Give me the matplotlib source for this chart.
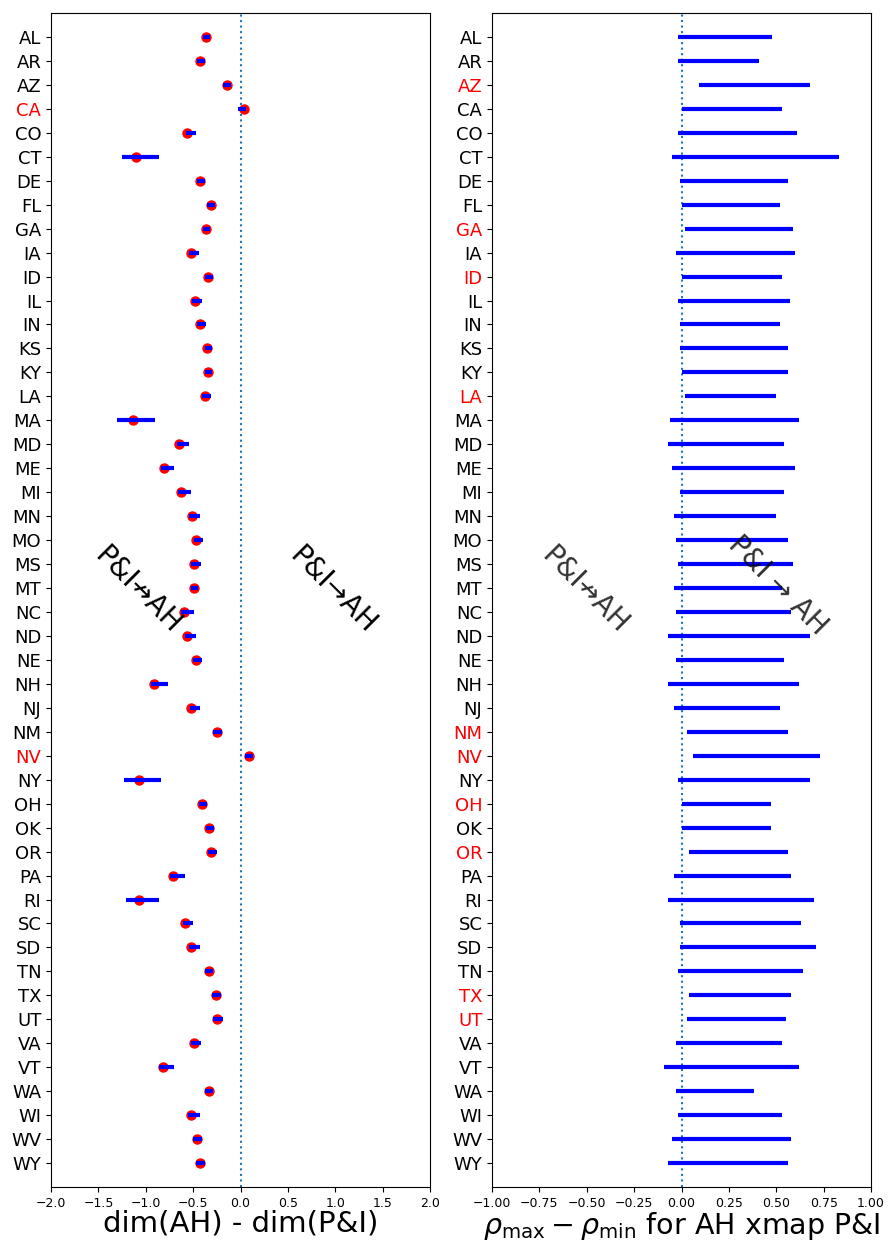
import numpy as np
import matplotlib
matplotlib.use('Agg')
import matplotlib.pyplot as plt

states = ['AL', 'AR', 'AZ', 'CA', 'CO', 'CT', 'DE', 'FL', 'GA', 'IA', 'ID', 'IL',
          'IN', 'KS', 'KY', 'LA', 'MA', 'MD', 'ME', 'MI', 'MN', 'MO', 'MS', 'MT',
          'NC', 'ND', 'NE', 'NH', 'NJ', 'NM', 'NV', 'NY', 'OH', 'OK', 'OR', 'PA',
          'RI', 'SC', 'SD', 'TN', 'TX', 'UT', 'VA', 'VT', 'WA', 'WI', 'WV', 'WY']

# dim(AH) - dim(P&I): point estimate and range
dim_diff = [-0.36, -0.43, -0.14, 0.04, -0.57, -1.10, -0.43, -0.31, -0.36, -0.52, -0.34, -0.48,
            -0.43, -0.35, -0.34, -0.37, -1.14, -0.65, -0.81, -0.63, -0.51, -0.47, -0.49, -0.49,
            -0.60, -0.56, -0.47, -0.91, -0.52, -0.25, 0.09, -1.07, -0.41, -0.33, -0.31, -0.71,
            -1.07, -0.59, -0.52, -0.33, -0.26, -0.25, -0.49, -0.82, -0.33, -0.52, -0.46, -0.43]
dim_lo = [-0.40, -0.46, -0.18, -0.03, -0.58, -1.25, -0.46, -0.35, -0.40, -0.54, -0.37, -0.51,
          -0.46, -0.38, -0.38, -0.41, -1.30, -0.67, -0.84, -0.66, -0.54, -0.49, -0.52, -0.52,
          -0.63, -0.59, -0.50, -0.94, -0.53, -0.29, 0.05, -1.23, -0.44, -0.36, -0.34, -0.74,
          -1.21, -0.61, -0.54, -0.37, -0.30, -0.29, -0.52, -0.86, -0.37, -0.55, -0.50, -0.47]
dim_hi = [-0.32, -0.37, -0.10, 0.06, -0.47, -0.86, -0.38, -0.27, -0.32, -0.44, -0.29, -0.41,
          -0.36, -0.30, -0.30, -0.31, -0.90, -0.54, -0.70, -0.52, -0.43, -0.40, -0.42, -0.45,
          -0.49, -0.47, -0.41, -0.77, -0.43, -0.20, 0.13, -0.84, -0.35, -0.28, -0.25, -0.59,
          -0.86, -0.50, -0.43, -0.29, -0.21, -0.19, -0.42, -0.70, -0.29, -0.43, -0.41, -0.37]

# rho_max - rho_min range for AH xmap P&I
rho_lo = [-0.02, -0.02, 0.09, 0.00, -0.02, -0.05, -0.01, 0.00, 0.02, -0.03, 0.00, -0.02,
          -0.01, -0.01, 0.00, 0.02, -0.06, -0.07, -0.05, -0.01, -0.04, -0.03, -0.02, -0.04,
          -0.03, -0.07, -0.03, -0.07, -0.04, 0.03, 0.06, -0.02, 0.00, 0.00, 0.04, -0.04,
          -0.07, -0.01, -0.01, -0.02, 0.04, 0.03, -0.03, -0.09, -0.03, -0.02, -0.05, -0.07]
rho_hi = [0.48, 0.41, 0.68, 0.53, 0.61, 0.83, 0.56, 0.52, 0.59, 0.60, 0.53, 0.57,
          0.52, 0.56, 0.56, 0.50, 0.62, 0.54, 0.60, 0.54, 0.50, 0.56, 0.59, 0.53,
          0.58, 0.68, 0.54, 0.62, 0.52, 0.56, 0.73, 0.68, 0.47, 0.47, 0.56, 0.58,
          0.70, 0.63, 0.71, 0.64, 0.58, 0.55, 0.53, 0.62, 0.38, 0.53, 0.58, 0.56]

red_left = ['CA', 'NV']
red_right = ['AZ', 'GA', 'ID', 'LA', 'NM', 'NV', 'OH', 'OR', 'TX', 'UT']

y = np.arange(len(states))

fig = plt.figure(figsize=(8.89, 12.41), dpi=100)
ax1 = fig.add_axes([0.0574, 0.0435, 0.4263, 0.946])
ax2 = fig.add_axes([0.5534, 0.0435, 0.4264, 0.946])

# left panel
ax1.plot(dim_diff, y, 'o', color='red', markersize=6.5, zorder=2)
ax1.hlines(y, dim_lo, dim_hi, colors='blue', linewidth=3, zorder=3)
ax1.axvline(0, color='tab:blue', linestyle=':', linewidth=1.5)
ax1.set_xlim(-2, 2)
ax1.set_xticks(np.arange(-2, 2.01, 0.5))
ax1.set_xlabel('dim(AH) - dim(P&I)', fontsize=21, labelpad=0)
ax1.text(-1.08, 23.1, 'P&I\u219bAH', fontsize=20, rotation=-45, ha='center', va='center')
ax1.text(0.97, 23.1, 'P&I\u2192AH', fontsize=20, rotation=-45, ha='center', va='center')

# right panel
ax2.hlines(y, rho_lo, rho_hi, colors='blue', linewidth=3, zorder=3)
ax2.axvline(0, color='tab:blue', linestyle=':', linewidth=1.5)
ax2.set_xlim(-1, 1)
ax2.set_xticks(np.arange(-1, 1.01, 0.25))
ax2.set_xlabel(r'$\rho_{\max} - \rho_{\min}$ for AH xmap P&I', fontsize=20.5, labelpad=0)
ax2.text(-0.51, 23.1, 'P&I\u219bAH', fontsize=20, rotation=-45, ha='center', va='center',
         color='k', alpha=0.8)
ax2.text(0.51, 22.9, 'P&I \u2192 AH', fontsize=20, rotation=-45, ha='center', va='center',
         color='k', alpha=0.8)

for ax, reds in [(ax1, red_left), (ax2, red_right)]:
    ax.set_yticks(y)
    ax.set_yticklabels(states, fontsize=13)
    ax.set_ylim(len(states), -1)
    ax.tick_params(axis='x', labelsize=9)
    for lab in ax.get_yticklabels():
        if lab.get_text() in reds:
            lab.set_color('red')

fig.savefig('out.png', dpi=100)
